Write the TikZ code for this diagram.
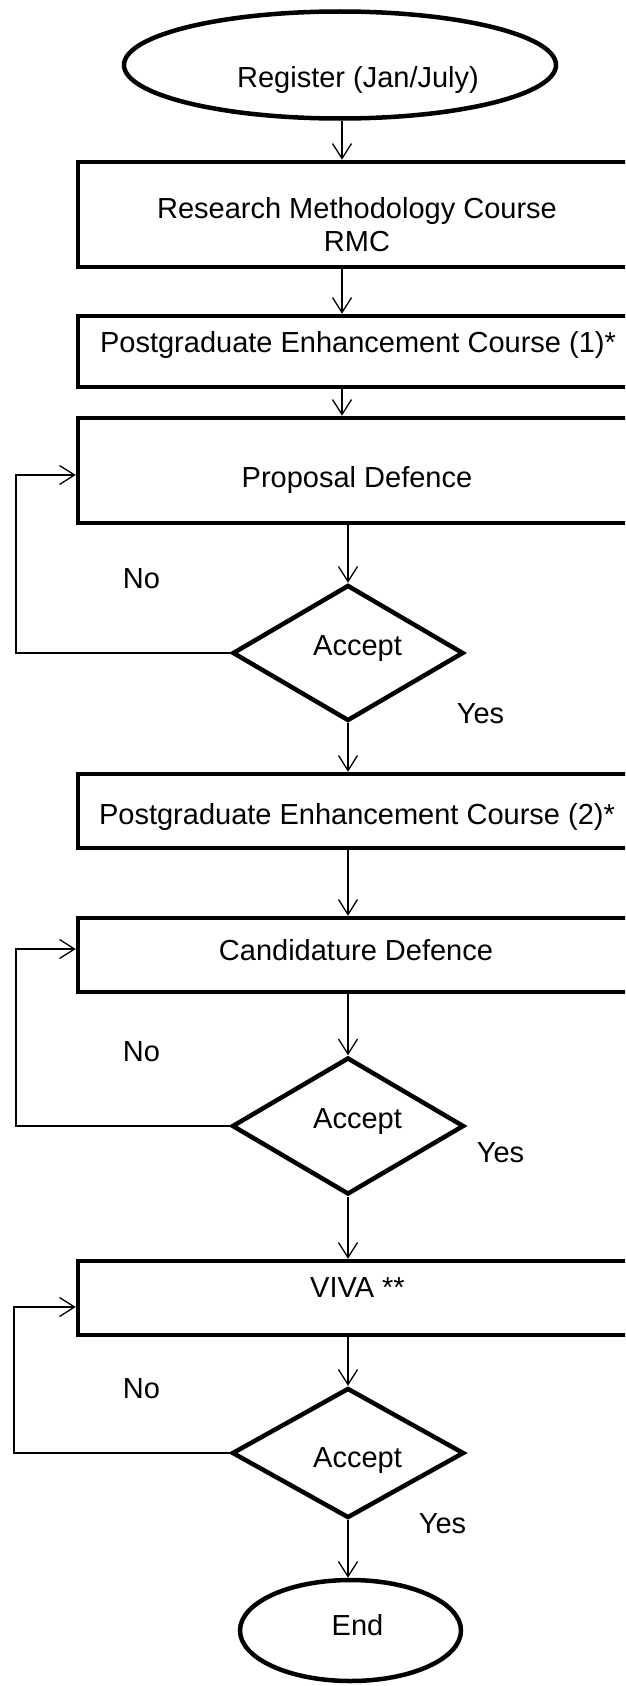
\documentclass[tikz,border=0pt]{standalone}
\usepackage{fontspec}
\setmainfont{Liberation Sans}
\usetikzlibrary{shapes.geometric,arrows.meta}
\begin{document}
\begin{tikzpicture}[x=1pt,y=-1pt,
  lbl/.style={font=\fontsize{29}{34}\selectfont, inner sep=0pt, anchor=base},
  shp/.style={draw=black, line width=4.5pt, inner sep=0pt},
  box/.style={shp, rectangle, minimum width=562pt},
  term/.style={shp, ellipse},
  dec/.style={shp, diamond},
  conn/.style={draw=black, line width=1.3pt, -{Straight Barb[length=15pt,width=19pt]}}]
\useasboundingbox (0,0) rectangle (625,1686);
\clip (0,0) rectangle (625,1686);

% shapes
\node[term, minimum width=432pt, minimum height=107pt] (reg) at (340,65) {};
\node[box, minimum height=105pt] (rmc) at (359,214.5) {};
\node[box, minimum height=71pt] (pec1) at (359,351.5) {};
\node[box, minimum height=105pt] (prop) at (359,470.5) {};
\node[dec, minimum width=231pt, minimum height=136pt] (d1) at (348,653) {};
\node[box, minimum height=74pt] (pec2) at (359,811) {};
\node[box, minimum height=74pt] (cand) at (359,955) {};
\node[dec, minimum width=232pt, minimum height=137pt] (d2) at (348,1126) {};
\node[box, minimum height=74pt] (viva) at (359,1298) {};
\node[dec, minimum width=232pt, minimum height=130pt] (d3) at (348,1453) {};
\node[term, minimum width=221pt, minimum height=101pt] (fin) at (350.5,1630.5) {};

% texts
\node[lbl] (treg) at (358,88) {Register (Jan/July)};
\node[lbl] (trmc1) at (357,218) {Research Methodology Course};
\node[lbl] (trmc2) at (357,251) {RMC};
\node[lbl] (tpec1) at (358,352) {Postgraduate Enhancement Course (1)*};
\node[lbl] (tprop) at (357,487) {Proposal Defence};
\node[lbl] (ta1) at (357.5,655) {Accept};
\node[lbl] (tno1) at (141.5,588) {No};
\node[lbl] (tyes1) at (480.5,723) {Yes};
\node[lbl] (tpec2) at (357,824) {Postgraduate Enhancement Course (2)*};
\node[lbl] (tcand) at (356,960) {Candidature Defence};
\node[lbl] (ta2) at (357.5,1128) {Accept};
\node[lbl] (tno2) at (141.5,1061) {No};
\node[lbl] (tyes2) at (500.5,1162) {Yes};
\node[lbl] (tviva) at (357.5,1297) {VIVA **};
\node[lbl] (ta3) at (357.5,1467) {Accept};
\node[lbl] (tno3) at (141.5,1398) {No};
\node[lbl] (tyes3) at (442.5,1533) {Yes};
\node[lbl] (tend) at (357.5,1635) {End};

% connectors
\coordinate (c1) at (342,0);
\draw[conn] (reg.south -| c1) -- (rmc.north -| c1);
\draw[conn] (rmc.south -| c1) -- (pec1.north -| c1);
\draw[conn] (pec1.south -| c1) -- (prop.north -| c1);
\draw[conn] (prop.south -| d1.north) -- (d1.north);
\draw[conn] (d1.south) -- (d1.south |- pec2.north);
\draw[conn] (pec2.south -| d2.north) -- (cand.north -| d2.north);
\draw[conn] (cand.south -| d2.north) -- (d2.north);
\draw[conn] (d2.south) -- (d2.south |- viva.north);
\draw[conn] (viva.south -| d3.north) -- (d3.north);
\draw[conn] (d3.south) -- (d3.south |- fin.north);

% loops back
\coordinate (l1) at (16,475);
\coordinate (l2) at (16,949);
\coordinate (l3) at (14,1307);
\draw[conn] (d1.west) -| (l1) -- (l1 -| prop.west);
\draw[conn] (d2.west) -| (l2) -- (l2 -| cand.west);
\draw[conn] (d3.west) -| (l3) -- (l3 -| viva.west);
\end{tikzpicture}
\end{document}
